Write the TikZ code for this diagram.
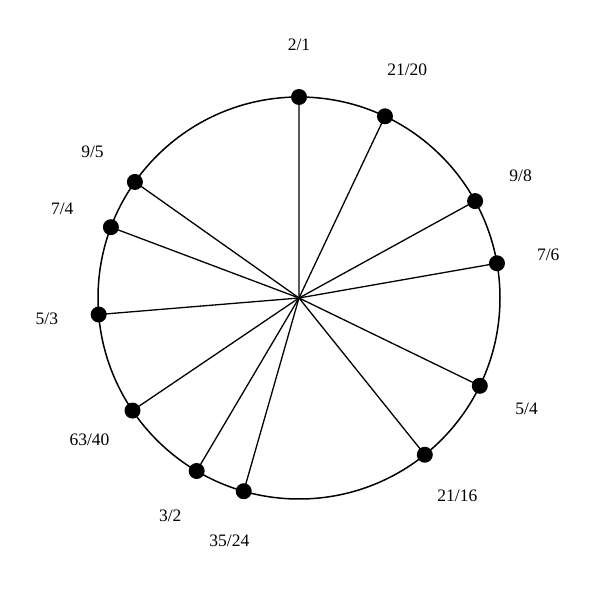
\documentclass[tikz,border=0pt]{standalone}
\usepackage{fontspec}
\setmainfont{Liberation Serif}
\usetikzlibrary{calc}
\begin{document}
\begin{tikzpicture}[x=1pt,y=1pt,
  dot/.style={circle,fill=black,inner sep=0pt,minimum size=16pt},
  lab/.style={font=\fontsize{17.5}{20}\selectfont,inner sep=0pt},
  spoke/.style={line width=1.3pt},
  rim/.style={line width=1.5pt}]
\useasboundingbox (0,0) rectangle (600,600);
\coordinate (c) at (299,302);
\draw[rim] (c) circle (201);
\foreach \name/\num/\den in {a/2/1,b/21/20,d/9/8,e/7/6,f/5/4,g/21/16,h/35/24,i/3/2,j/63/40,k/5/3,l/7/4,m/9/5}{
  \pgfmathsetmacro{\ang}{90-360*ln(\num/\den)/ln(2)}
  \coordinate (p\name) at ($(c)+(\ang:201)$);
  \draw[spoke] (c) -- (p\name);
  \node[dot] (d\name) at (p\name) {};
  \node[lab] (t\name) at ($(c)+(\ang:253)$) {\num/\den};
}
\end{tikzpicture}
\end{document}
